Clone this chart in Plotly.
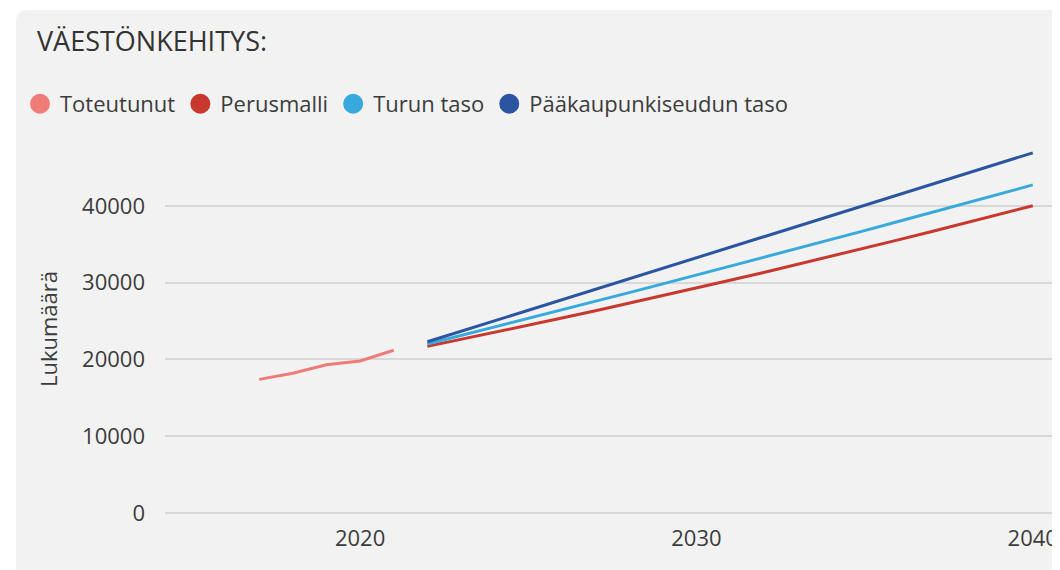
import plotly.graph_objects as go

# ---- data ----
years_actual = [2017, 2018, 2019, 2020, 2021]
toteutunut = [17400, 18200, 19300, 19800, 21200]

years_fc = list(range(2022, 2041))
perusmalli = [21700, 22600, 23510, 24440, 25380, 26340, 27310, 28290, 29290, 30300,
              31320, 32360, 33420, 34480, 35560, 36660, 37770, 38890, 40000]
turun_taso = [22000, 23100, 24210, 25320, 26440, 27560, 28690, 29830, 30970, 32120,
              33270, 34430, 35600, 36770, 37950, 39130, 40320, 41520, 42720]
paakaupunki = [22300, 23670, 25040, 26400, 27770, 29140, 30500, 31870, 33240, 34600,
               35970, 37340, 38700, 40070, 41440, 42800, 44170, 45540, 46900]

series_names = ["Toteutunut", "Perusmalli", "Turun taso", "Pääkaupunkiseudun taso"]
colors = ["#f07c78", "#c9382f", "#38a9dc", "#2b55a1"]

title_text = "VÄESTÖNKEHITYS:"
y_title = "Lukumäärä"
x_ticks = [2020, 2030, 2040]
y_ticks = [0, 10000, 20000, 30000, 40000]

FONT = "Open Sans"
TXT = "#3c3c3c"

fig = go.Figure()
data = [(years_actual, toteutunut), (years_fc, perusmalli), (years_fc, turun_taso), (years_fc, paakaupunki)]
for (xs, ys), name, c in zip(data, series_names, colors):
    fig.add_trace(go.Scatter(x=xs, y=ys, mode="lines", name=name,
                             line=dict(color=c, width=3), showlegend=False))
    fig.add_trace(go.Scatter(x=[None], y=[None], mode="markers", name=name,
                             marker=dict(color=c, size=16, symbol="circle",
                                         line=dict(color=c, width=4))))

# page body has an 8px margin; figure sized to fit the window
W, H = 1052, 562
L, R, T, B = 157, 2, 122, 42
pw, ph = W - L - R, H - T - B

def px(x):
    return (x - L) / pw

def py(y):
    return (H - B - y) / ph

# grey panel with rounded top-left corner
x0, y0 = px(8), py(2)
x1, y1 = px(W + 2), py(H + 2)
rx, ry = 12 / pw, 12 / ph
path = (f"M {x0},{y1} L {x0},{y0 - ry} Q {x0},{y0} {x0 + rx},{y0} "
        f"L {x1},{y0} L {x1},{y1} Z")
fig.add_shape(type="path", path=path, xref="paper", yref="paper",
              fillcolor="#f2f2f2", line=dict(width=0), layer="below")

fig.update_layout(
    width=W, height=H,
    margin=dict(l=L, r=R, t=T, b=B),
    paper_bgcolor="white",
    plot_bgcolor="rgba(0,0,0,0)",
    font=dict(family=FONT, color=TXT, size=22),
    title=dict(text=title_text, x=29 / W, xanchor="left", xref="container",
               y=1 - 34 / H, yanchor="middle", yref="container",
               font=dict(size=27, color="#333333", family=FONT)),
    legend=dict(orientation="h", xref="container", yref="container",
                x=12 / W, xanchor="left", y=1 - 96 / H, yanchor="middle",
                font=dict(size=22, color=TXT, family=FONT),
                bgcolor="rgba(0,0,0,0)", itemsizing="trace"),
    xaxis=dict(range=[2014.2, 2040.75], tickvals=x_ticks, showgrid=False,
               zeroline=False, showline=False, ticks="", tickformat="d",
               ticklabelstandoff=-5,
               tickfont=dict(size=22, color=TXT)),
    yaxis=dict(range=[-1950, 49870], tickvals=y_ticks, showgrid=True,
               gridcolor="#d8d8d8", gridwidth=2, zeroline=False, showline=False,
               ticks="", ticklabelstandoff=19, tickformat="d",
               tickfont=dict(size=22, color=TXT),
               title=dict(text=y_title, font=dict(size=22, color=TXT), standoff=18)),
    showlegend=True,
)

fig.write_html("out.html")
